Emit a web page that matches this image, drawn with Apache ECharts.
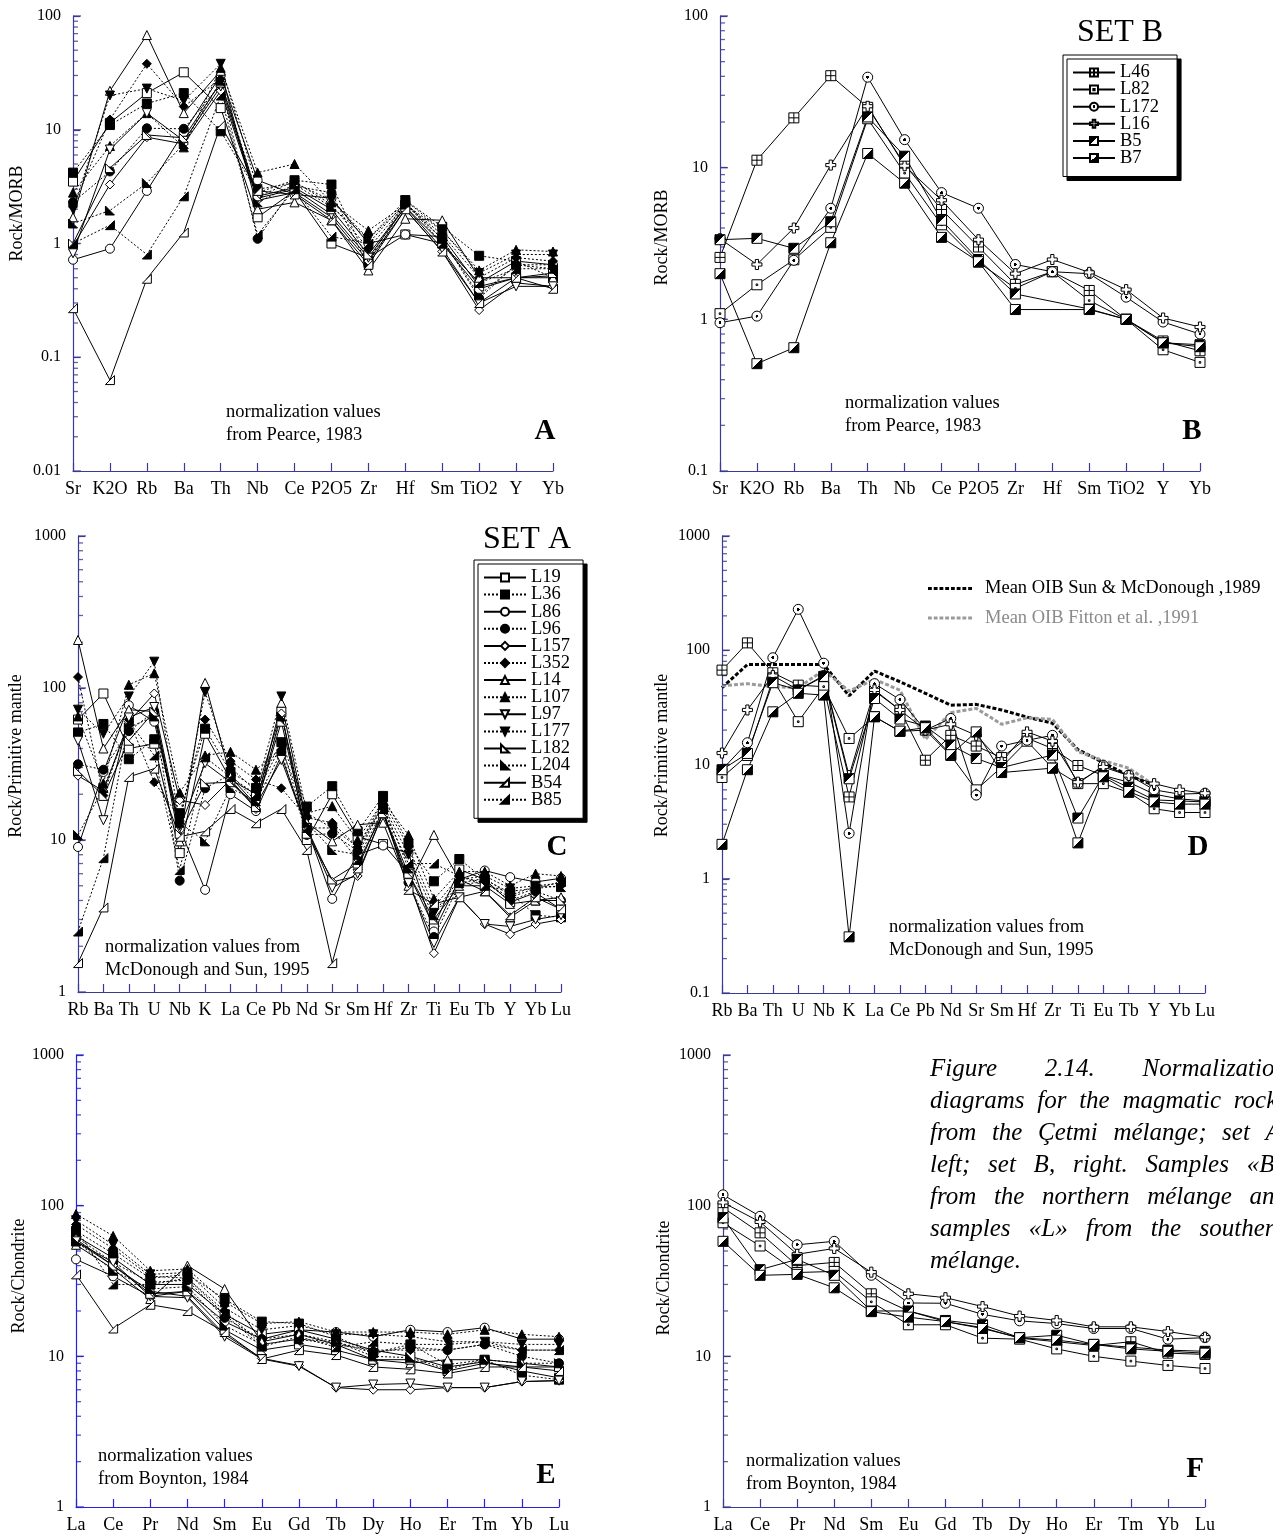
<!DOCTYPE html>
<html><head><meta charset="utf-8">
<script src="https://cdn.jsdelivr.net/npm/echarts@6/dist/echarts.min.js"></script>
<style>html,body{margin:0;padding:0;background:#fff}#c{width:1273px;height:1535px}</style>
</head><body><div id="c"></div>
<script>
// ---------- categories ----------
const catsAB = ['Sr','K2O','Rb','Ba','Th','Nb','Ce','P2O5','Zr','Hf','Sm','TiO2','Y','Yb'];
const catsCD = ['Rb','Ba','Th','U','Nb','K','La','Ce','Pb','Nd','Sr','Sm','Hf','Zr','Ti','Eu','Tb','Y','Yb','Lu'];
const catsEF = ['La','Ce','Pr','Nd','Sm','Eu','Gd','Tb','Dy','Ho','Er','Tm','Yb','Lu'];
const setANames = ['L19','L36','L86','L96','L157','L352','L14','L107','L97','L177','L182','L204','B54','B85'];
const setBNames = ['L46','L82','L172','L16','B5','B7'];
const oibNames = ['Mean OIB Sun & McDonough ,1989','Mean OIB Fitton et al. ,1991'];

// ---------- Panel A (Rock/MORB, set A) ----------
const A_L19  = [3.5, 11.5, 21, 32, 15.5, 1.7, 2.9, 1.0, 0.75, 1.2, 1.15, 0.42, 0.5, 0.52];
const A_L36  = [4.2, 11, 17, 21, 9.7, 2.8, 3.6, 3.3, 0.7, 2.4, 1.4, 0.78, 0.7, 0.5];
const A_L86  = [0.72, 0.9, 2.9, 9.5, 30, 3.6, 2.7, 2.5, 1.0, 1.2, 1.0, 0.45, 0.7, 0.65];
const A_L96  = [2.3, 4.3, 10.3, 10.2, 25, 1.1, 3.2, 2.8, 0.63, 2.3, 1.1, 0.33, 0.65, 0.6];
const A_L157 = [0.95, 3.3, 8.6, 7.5, 22, 2.4, 2.8, 1.7, 0.7, 2.0, 0.85, 0.26, 0.45, 0.42];
const A_L352 = [2.1, 12.3, 38, 16, 28, 2.6, 3.5, 2.2, 0.9, 2.2, 1.2, 0.5, 0.75, 0.7];
const A_L14  = [1.7, 22, 68, 14, 33, 2.0, 2.3, 1.6, 0.58, 1.65, 1.6, 0.5, 0.5, 0.5];
const A_L107 = [2.8, 7.2, 14, 7, 35, 4.2, 5.0, 2.3, 1.3, 2.2, 1.3, 0.58, 0.88, 0.85];
const A_L97  = [0.82, 6.7, 14, 8, 24, 2.5, 3.0, 1.8, 0.75, 2.1, 0.9, 0.3, 0.42, 0.42];
const A_L177 = [2.0, 20, 23, 18, 38, 3.0, 3.4, 2.4, 1.1, 2.4, 1.3, 0.55, 0.8, 0.8];
const A_L182 = [1.0, 4.6, 9, 8.5, 26, 2.6, 3.1, 2.0, 0.8, 2.1, 1.0, 0.4, 0.5, 0.55];
const A_L204 = [1.5, 1.95, 3.4, 7.5, 27, 2.3, 3.3, 2.1, 1.1, 2.2, 1.1, 0.35, 0.65, 0.65];
const A_B54  = [0.27, 0.063, 0.49, 1.25, 11, 2.9, 2.7, 1.6, 0.65, 2.0, 0.85, 0.3, 0.5, 0.4];
const A_B85  = [1.0, 1.45, 0.8, 2.6, 20, 1.2, 3.0, 1.15, 1.0, 2.3, 1.0, 0.45, 0.6, 0.6];

// ---------- Panel B (Rock/MORB, set B) ----------
const B_L46  = [2.56, 11.2, 21.3, 40.4, 25, 10.5, 5.3, 3.0, 1.7, 2.06, 1.55, 1.0, 0.72, 0.62];
const B_L82  = [1.09, 1.69, 2.47, 4.04, 21, 9.2, 4.2, 2.38, 1.6, 2.06, 1.33, 1.0, 0.63, 0.52];
const B_L172 = [0.95, 1.05, 2.45, 5.4, 39.5, 15.3, 6.85, 5.4, 2.3, 2.06, 2.0, 1.4, 0.96, 0.8];
const B_L16  = [3.4, 2.3, 4.0, 10.4, 25.4, 10.3, 6.1, 3.35, 2.0, 2.48, 2.04, 1.57, 1.02, 0.89];
const B_B5   = [3.35, 3.42, 2.94, 4.4, 21.6, 11.9, 4.5, 2.48, 1.47, null, 1.17, 1.0, 0.7, 0.68];
const B_B7   = [2.0, 0.51, 0.65, 3.2, 12.4, 7.9, 3.47, 2.4, 1.16, null, 1.16, 1.0, 0.7, 0.66];

// ---------- Panel C (Rock/Primitive mantle, set A) ----------
const C_L19  = [62, 92, 40, 43, 8.2, 50, 25, 20, 70, 10, 20, 10.5, 9.4, 6, 2.7, 6.4, 5.5, 3.9, 4.5, 3.5];
const C_L36  = [51, 58, 34, 46, 15, 54, 28, 22, 44, 16.6, 22.6, 11.4, 19.5, 9.5, 5.35, 7.5, 5.5, 4.5, 3.2, 3.1];
const C_L86  = [9, 28, 77, 60, 11.9, 4.7, 20, 15.5, 36, 12, 4.1, 8, 9.2, 8.2, 2.5, 5.5, 6.3, 5.7, 5.3, 5.6];
const C_L96  = [31.5, 29, 52, 70, 5.4, 21.9, 27, 18, 38, 10.8, 11, 8.5, 17, 5.25, 2.3, 5.1, 5.3, 4.0, 4.6, 4.0];
const C_L157 = [26.5, 21, 60, 92, 18.3, 17, 25, 16, 68, 12, 5.3, 5.8, 15, 5.5, 1.8, 4.2, 2.8, 2.4, 2.8, 3.0];
const C_L352 = [118, 19.6, 62, 24, 14, 62, 33, 25, 21.9, 14, 13, 9, 18, 9, 3.6, 5.8, 5.2, 4.2, 4.8, 5.0];
const C_L14  = [207, 40, 72, 70, 9.8, 108, 26, 17, 80, 13, 9.8, 12.6, 13, 5, 10.8, 5.5, 4.6, 3.1, 4.0, 4.2];
const C_L107 = [65, 23.6, 105, 125, 20.5, 36, 38, 29, 40, 15, 16.7, 10, 18, 10.8, 4.1, 6.2, 6.2, 5.0, 6.0, 5.8];
const C_L97  = [45, 13.5, 64, 75, 12, 32, 24, 17, 33.6, 12, 4.85, 6, 15, 5.2, 2.1, 4.2, 2.8, 2.7, 3.0, 3.2];
const C_L177 = [72, 50, 88, 149, 12.5, 94, 30, 21, 88, 15, 12, 9, 17, 8, 3.3, 5.5, 5.8, 4.8, 5.0, 5.2];
const C_L182 = [28.5, 19.5, 45, 70, 11, 23.6, 24, 16.5, 60, 11, 5.5, 7, 15, 6, 3.0, 5, 5, 3.8, 4.0, 4.0];
const C_L204 = [10.8, 22, 55, 65, 13, 9.8, 22, 18, 65, 13, 8.6, 8, 17, 6.5, 3.2, 5.2, 5.6, 4.3, 5.0, 4.9];
const C_B54  = [1.55, 3.6, 26, 29.5, 10.5, 11.4, 16, 12.9, 16, 8.6, 1.55, 6.5, 16, 4.7, 3.8, 4.2, 4.6, 3.2, 4.2, 3.5];
const C_B85  = [2.5, 7.6, 60, 36, 6.35, 35, 26, 20, 42, 12, 12, 7.4, 16, 7, 7.0, 5.8, 5, 4.6, 4.8, 5.3];

// ---------- Panel D (Rock/Primitive mantle, set B + OIB) ----------
const D_L46  = [67, 116, 63.5, 49.5, 48, 5.2, 44, 30, 10.9, 18, 14.5, 11.5, 17, 13.8, 9.8, 8, 7, 5.5, 5.0, 4.8];
const D_L82  = [7.7, 12, 55.6, 23.7, 48, 16.9, 26.2, 19.5, 20, 12, 6.0, 9.5, 16, 9.3, 6.8, 6.8, 5.7, 4.1, 3.8, 3.8];
const D_L172 = [9, 15.5, 86, 228, 77, 2.5, 51, 37, 20, 25.3, 5.4, 14.5, 16.3, 18, 6.8, 9.8, 8.1, 6.0, 5.5, 5.6];
const D_L16  = [12.6, 30, 60, 45, 60, 8, 45, 30, 20, 22.5, 18, 10.5, 19.3, 16, 7, 9.5, 8, 6.8, 6.0, 5.6];
const D_B5   = [9, 12.5, 52, 44.8, 59, 7.5, 37.8, 25, 21.7, 14.8, 11.3, 9.4, null, 12.1, 3.4, 8, 6.3, 4.9, 4.8, 4.7];
const D_B7   = [2.0, 9, 28.9, 42, 40.5, 0.31, 26.2, 19.6, 21, 12.2, 19.3, 8.5, null, 9.3, 2.06, 7.8, 5.8, 4.7, 4.5, 4.5];
const D_OIB_SM = [47, 75, 75, 75, 75, 40, 65.8, 53, 42, 33, 33.6, 30, 26, 23, 13.5, 10.4, 8, 6.6, null, null];
const D_OIB_FI = [48.9, 51, 48, 47, 67, 43.9, 55.6, 44.7, 16.6, 28.4, 31, 22.5, 25.6, 24.8, 13, 10.8, 9.3, 6.6, null, null];

// ---------- Panel E (Rock/Chondrite, set A) ----------
const E_L19  = [63, 45, 30, 30, 19, 14, 15, 13, 11, 10, 8.5, 9.2, 8, 7.2];
const E_L36  = [68, 48, 33, 35, 24, 17, 16.5, 13.5, 10.5, 12, 8.8, 9.5, 7.5, 7.0];
const E_L86  = [44, 34, 25, 27, 17, 13, 15, 14.5, 13.5, 15, 14.5, 15.5, 13, 13];
const E_L96  = [62, 42, 31, 32, 18, 13, 14, 12.5, 10.5, 11.5, 11, 12, 10, 9];
const E_L157 = [60, 40, 27, 25, 14, 9.7, 8.7, 6.2, 6.0, 6.0, 6.2, 6.2, 6.8, 6.9];
const E_L352 = [75, 52, 34, 33, 20, 12, 13, 12, 11, 11, 11, 12, 11, 11];
const E_L14  = [55, 38, 24, 40, 28, 12.5, 14, 12, 9.5, 9, 9.5, 9.5, 9, 8.5];
const E_L107 = [88, 63, 37, 38, 23, 16.5, 17, 14.5, 14.5, 14.5, 14, 15, 14, 13.5];
const E_L97  = [58, 42, 25, 24.5, 13.5, 9.6, 8.6, 6.2, 6.5, 6.6, 6.2, 6.2, 6.8, 6.9];
const E_L177 = [80, 55, 35, 36, 21, 15, 16, 14, 14, 13.5, 12.5, 12.5, 12, 12];
const E_L182 = [58, 40, 26, 27, 15, 11, 12, 11, 9.5, 9.5, 8, 9, 8.5, 8.5];
const E_L204 = [58, 37, 28, 29, 16, 12, 13, 12.5, 10, 9.8, 8.2, 9.5, 9, 9];
const E_B54  = [35, 15.3, 22, 20, 14.5, 9.6, 11, 10.2, 8.5, 8.2, 7.7, 8.5, 8.5, 8];
const E_B85  = [70, 30, 30, 33, 19, 11.6, 13.5, 11.5, 12.5, 12, 12, 12.5, 11, 11];

// ---------- Panel F (Rock/Chondrite, set B) ----------
const F_L46  = [97, 66, 40, 42, 26, 20, 17, 15.5, 13.2, 12.5, 11.8, 12.5, 10.5, 10.3];
const F_L82  = [77, 54, 36, 36.6, 23, 16.2, 16.2, 13.2, 13, 11.2, 10, 9.3, 8.7, 8.3];
const F_L172 = [118, 85, 55, 58, 34.5, 22.6, 22.5, 19, 17.2, 16.5, 15.3, 15.3, 13, 13.3];
const F_L16  = [105, 78, 47.6, 52, 36.2, 26, 24.5, 21.4, 18.5, 17.3, 15.7, 15.7, 14.6, 13.4];
const F_B5   = [83, 37.6, 44, 34.5, 20, 20, 17.3, 16.2, 13.3, 13.8, 12, 11.5, 11, 10.8];
const F_B7   = [58, 34.5, 35, 28.5, 19.8, 18.2, 17, 15.3, 13.3, 12.8, 12, 11.2, 10.8, 10.5];

// ---------- caption lines ----------
const captionLines = [
  ['Figure','2.14.','Normalization'],
  ['diagrams','for','the','magmatic','rocks'],
  ['from','the','Çetmi','mélange;','set','A,'],
  ['left;','set','B,','right.','Samples','«B»'],
  ['from','the','northern','mélange','and'],
  ['samples','«L»','from','the','southern'],
  ['mélange.']
];

// ---------- styles ----------
const FONT = '"Liberation Serif", "Times New Roman", serif';
const AXIS_COL = '#3b3b94';
const AXIS_COL_E = '#2424d6';
const INV_TRI = 'path://M0,0L10,0L5,9Z';
const RT_L = 'path://M0,0L0,10L10,10Z';
const RT_R = 'path://M10,0L10,10L0,10Z';
const GRID_SQ = 'path://M0,0L10,0L10,10L0,10Z M5,0L5,10 M0,5L10,5';
const DOT_SQ = 'path://M0,0L10,0L10,10L0,10Z M4.2,4.2L5.8,4.2L5.8,5.8L4.2,5.8Z';
const PLUS = 'path://M3.4,0L6.6,0L6.6,3.4L10,3.4L10,6.6L6.6,6.6L6.6,10L3.4,10L3.4,6.6L0,6.6L0,3.4L3.4,3.4Z';
const DASH_ICON = 'path://M0,0h4v3h-4z M6,0h4v3h-4z M12,0h4v3h-4z M18,0h4v3h-4z M24,0h4v3h-4z M30,0h4v3h-4z M36,0h4v3h-4z M42,0h4v3h-4z';
const dotCircle = {type:'radial', x:0.5, y:0.5, r:0.5, colorStops:[
  {offset:0,color:'#000'},{offset:0.26,color:'#000'},{offset:0.27,color:'#fff'},{offset:1,color:'#fff'}]};
const halfUL = {type:'linear', x:0, y:0, x2:1, y2:1, colorStops:[
  {offset:0,color:'#000'},{offset:0.5,color:'#000'},{offset:0.5,color:'#fff'},{offset:1,color:'#fff'}]};
const halfLR = {type:'linear', x:0, y:0, x2:1, y2:1, colorStops:[
  {offset:0,color:'#fff'},{offset:0.5,color:'#fff'},{offset:0.5,color:'#000'},{offset:1,color:'#000'}]};

const styleA = {
  L19:{symbol:'rect', fill:'#fff', dotted:false},
  L36:{symbol:'rect', fill:'#000', dotted:true},
  L86:{symbol:'circle', fill:'#fff', dotted:false},
  L96:{symbol:'circle', fill:'#000', dotted:true},
  L157:{symbol:'diamond', fill:'#fff', dotted:false},
  L352:{symbol:'diamond', fill:'#000', dotted:true},
  L14:{symbol:'triangle', fill:'#fff', dotted:false},
  L107:{symbol:'triangle', fill:'#000', dotted:true},
  L97:{symbol:INV_TRI, fill:'#fff', dotted:false},
  L177:{symbol:INV_TRI, fill:'#000', dotted:true},
  L182:{symbol:RT_L, fill:'#fff', dotted:false},
  L204:{symbol:RT_L, fill:'#000', dotted:true},
  B54:{symbol:RT_R, fill:'#fff', dotted:false},
  B85:{symbol:RT_R, fill:'#000', dotted:true}
};
const styleB = {
  L46:{symbol:GRID_SQ, fill:'#fff', dotted:false},
  L82:{symbol:DOT_SQ, fill:'#fff', dotted:false},
  L172:{symbol:'circle', fill:dotCircle, dotted:false},
  L16:{symbol:PLUS, fill:'#fff', dotted:false},
  B5:{symbol:'rect', fill:halfUL, dotted:false},
  B7:{symbol:'rect', fill:halfLR, dotted:false}
};

const panelA = [A_L19,A_L36,A_L86,A_L96,A_L157,A_L352,A_L14,A_L107,A_L97,A_L177,A_L182,A_L204,A_B54,A_B85];
const panelB = [B_L46,B_L82,B_L172,B_L16,B_B5,B_B7];
const panelC = [C_L19,C_L36,C_L86,C_L96,C_L157,C_L352,C_L14,C_L107,C_L97,C_L177,C_L182,C_L204,C_B54,C_B85];
const panelD = [D_L46,D_L82,D_L172,D_L16,D_B5,D_B7];
const panelE = [E_L19,E_L36,E_L86,E_L96,E_L157,E_L352,E_L14,E_L107,E_L97,E_L177,E_L182,E_L204,E_B54,E_B85];
const panelF = [F_L46,F_L82,F_L172,F_L16,F_B5,F_B7];

// ---------- layout ----------
const grids = [
  {left:73, top:16, width:480, height:455},
  {left:720, top:16, width:480, height:455},
  {left:78, top:536, width:483, height:456},
  {left:722, top:536, width:483, height:457},
  {left:76, top:1055, width:483, height:452},
  {left:723, top:1055, width:482, height:452}
];
const panelCats = [catsAB, catsAB, catsCD, catsCD, catsEF, catsEF];
const yRanges = [[0.01,100],[0.1,100],[1,1000],[0.1,1000],[1,1000],[1,1000]];
const yNames = ['Rock/MORB','Rock/MORB','Rock/Primitive mantle','Rock/Primitive mantle','Rock/Chondrite','Rock/Chondrite'];
const yNameGap = [47, 49, 53, 51, 48, 50];
const yNameShift = [60, 12, 16, 18, 10, 6];
const axisCols = [AXIS_COL, AXIS_COL, AXIS_COL, AXIS_COL, AXIS_COL_E, AXIS_COL];

// log-spaced minor tick values (2..9 of every decade) and decade ticks
function minorTicks(min, max) {
  const out = [];
  for (let d = min; d < max - 1e-12; d *= 10) {
    for (let k = 2; k <= 9; k++) out.push(+(d * k).toPrecision(3));
  }
  return out;
}
function majorTicks(min, max) {
  const out = [];
  for (let d = min; d <= max * 1.0001; d *= 10) out.push(+d.toPrecision(3));
  return out;
}

const xAxes = [], yAxes = [];
grids.forEach((g, i) => {
  const col = axisCols[i];
  xAxes.push({
    type:'category', gridIndex:i, data:panelCats[i], boundaryGap:false,
    axisLine:{show:true, onZero:false, lineStyle:{color:col, width:1.2}},
    axisTick:{show:true, inside:true, length:8, interval:0, lineStyle:{color:col, width:1.2}},
    axisLabel:{interval:0, color:'#000', fontFamily:FONT, fontSize:18, margin:9, hideOverlap:false},
    splitLine:{show:false}
  });
  const [mn, mx] = yRanges[i];
  yAxes.push({
    type:'log', logBase:10, gridIndex:i, min:mn, max:mx, position:'left',
    axisLine:{show:true, lineStyle:{color:col, width:1.2}},
    axisTick:{show:true, inside:true, length:7, lineStyle:{color:col, width:1.2}},
    axisLabel:{color:'#000', fontFamily:FONT, fontSize:16, margin:12,
      formatter: v => String(+(+v).toPrecision(3))},
    splitLine:{show:false}, minorTick:{show:false},
    name:yNames[i], nameLocation:'middle', nameGap:yNameGap[i], nameRotate:90,
    nameTextStyle:{color:'#000', fontFamily:FONT, fontSize:18, padding:[0,0,0,yNameShift[i]]}
  });
});

function mkSeries(names, styles, arrays, gi, size) {
  return names.map((nm, k) => {
    const st = styles[nm];
    return {
      type:'line', name:nm, xAxisIndex:gi, yAxisIndex:gi, data:arrays[k],
      symbol:st.symbol, symbolSize:size, showSymbol:true, connectNulls:true,
      lineStyle:{color:'#000', width:1, type: st.dotted ? [2,2] : 'solid'},
      itemStyle:{color:st.fill, borderColor:'#000', borderWidth:1},
      emphasis:{disabled:true}, silent:true, animation:false
    };
  });
}

// tick marks on the log y axes (drawn through the axis scales)
const tickSeries = [];
grids.forEach((g, i) => {
  const [mn, mx] = yRanges[i];
  tickSeries.push({
    type:'scatter', xAxisIndex:i, yAxisIndex:i, silent:true, clip:false, z:1,
    data:minorTicks(mn, mx).map(v => [0, v]),
    symbol:'rect', symbolSize:[5, 1.3], symbolOffset:[2.5, 0],
    itemStyle:{color:axisCols[i]}, emphasis:{disabled:true}, legendHoverLink:false
  });
  tickSeries.push({
    type:'scatter', xAxisIndex:i, yAxisIndex:i, silent:true, clip:false, z:1,
    data:majorTicks(mn, mx).map(v => [0, v]),
    symbol:'rect', symbolSize:[8, 1.4], symbolOffset:[4, 0],
    itemStyle:{color:axisCols[i]}, emphasis:{disabled:true}, legendHoverLink:false
  });
});

const series = [].concat(
  tickSeries,
  mkSeries(setANames, styleA, panelA, 0, 9),
  mkSeries(setBNames, styleB, panelB, 1, 10),
  mkSeries(setANames, styleA, panelC, 2, 9),
  mkSeries(setBNames, styleB, panelD, 3, 10),
  [
    {type:'line', name:oibNames[0], xAxisIndex:3, yAxisIndex:3, data:D_OIB_SM, symbol:'none', z:1,
     lineStyle:{color:'#000', width:3, type:[4,2]}, itemStyle:{color:'#000'}, silent:true},
    {type:'line', name:oibNames[1], xAxisIndex:3, yAxisIndex:3, data:D_OIB_FI, symbol:'none', z:1,
     lineStyle:{color:'#9a9a9a', width:3, type:[4,2]}, itemStyle:{color:'#9a9a9a'}, silent:true}
  ],
  mkSeries(setANames, styleA, panelE, 4, 9),
  mkSeries(setBNames, styleB, panelF, 5, 10)
);

const legendCommon = {
  orient:'vertical', itemWidth:42, itemHeight:10, itemGap:-1.9, selectedMode:false,
  backgroundColor:'#fff', borderColor:'#000', borderWidth:1,
  shadowColor:'#000', shadowBlur:0, shadowOffsetX:4, shadowOffsetY:4,
  textStyle:{color:'#000', fontFamily:FONT, fontSize:18.5, lineHeight:17.3}
};
const legends = [
  Object.assign({}, legendCommon, {left:474, top:560, padding:[8,13,9,9], data:setANames}),
  Object.assign({}, legendCommon, {left:1063, top:55, padding:[8,18,9,9], data:setBNames}),
  {orient:'vertical', left:923, top:574, itemWidth:44, itemHeight:3, itemGap:10.5, selectedMode:false,
   textStyle:{color:'#000', fontFamily:FONT, fontSize:18.5, padding:[0,0,0,8]},
   data:[{name:oibNames[0], icon:DASH_ICON}, {name:oibNames[1], icon:DASH_ICON, textStyle:{color:'#8a8a8a'}}]}
];

// ---------- text ----------
function txt(t, x, y, font, extra) {
  return Object.assign({type:'text', x:x, y:y, silent:true,
    style:Object.assign({text:t, font:font, fill:'#000', verticalAlign:'middle', align:'left', lineHeight:23}, extra || {})});
}
const NORM = '18.5px ' + FONT;
const LET = 'bold 29px ' + FONT;
const CAP = 'italic 25px ' + FONT;
const texts = [
  txt('normalization values\nfrom Pearce, 1983', 226, 424, NORM),
  txt('normalization values\nfrom Pearce, 1983', 845, 415, NORM),
  txt('normalization values from\nMcDonough and Sun, 1995', 105, 959, NORM),
  txt('normalization values from\nMcDonough and Sun, 1995', 889, 939, NORM),
  txt('normalization values\nfrom Boynton, 1984', 98, 1468, NORM),
  txt('normalization values\nfrom Boynton, 1984', 746, 1473, NORM),
  txt('A', 545, 432, LET, {align:'center'}),
  txt('B', 1192, 432, LET, {align:'center'}),
  txt('C', 557, 848, LET, {align:'center'}),
  txt('D', 1198, 848, LET, {align:'center'}),
  txt('E', 546, 1476, LET, {align:'center'}),
  txt('F', 1195, 1470, LET, {align:'center'}),
  txt('SET B', 1120, 33, '32px ' + FONT, {align:'center'}),
  txt('SET A', 527, 540, '32px ' + FONT, {align:'center'})
];

// justified caption column (930 .. 1287), the right part falls outside the page as in the reference
(function () {
  const ctx = document.createElement('canvas').getContext('2d');
  ctx.font = CAP;
  const colL = 930, colR = 1287, y0 = 1069, dy = 32;
  captionLines.forEach((words, li) => {
    const widths = words.map(w => ctx.measureText(w).width);
    const total = widths.reduce((a, b) => a + b, 0);
    const last = li === captionLines.length - 1;
    const gap = (last || words.length < 2) ? 7 : (colR - colL - total) / (words.length - 1);
    let x = colL;
    words.forEach((w, k) => {
      texts.push(txt(w, x, y0 + li * dy, CAP));
      x += widths[k] + gap;
    });
  });
})();

const chart = echarts.init(document.getElementById('c'), null, {renderer:'canvas'});
chart.setOption({
  animation:false,
  backgroundColor:'#fff',
  grid:grids.map(g => Object.assign({containLabel:false}, g)),
  xAxis:xAxes,
  yAxis:yAxes,
  legend:legends,
  series:series,
  graphic:texts
});
</script>
</body></html>
